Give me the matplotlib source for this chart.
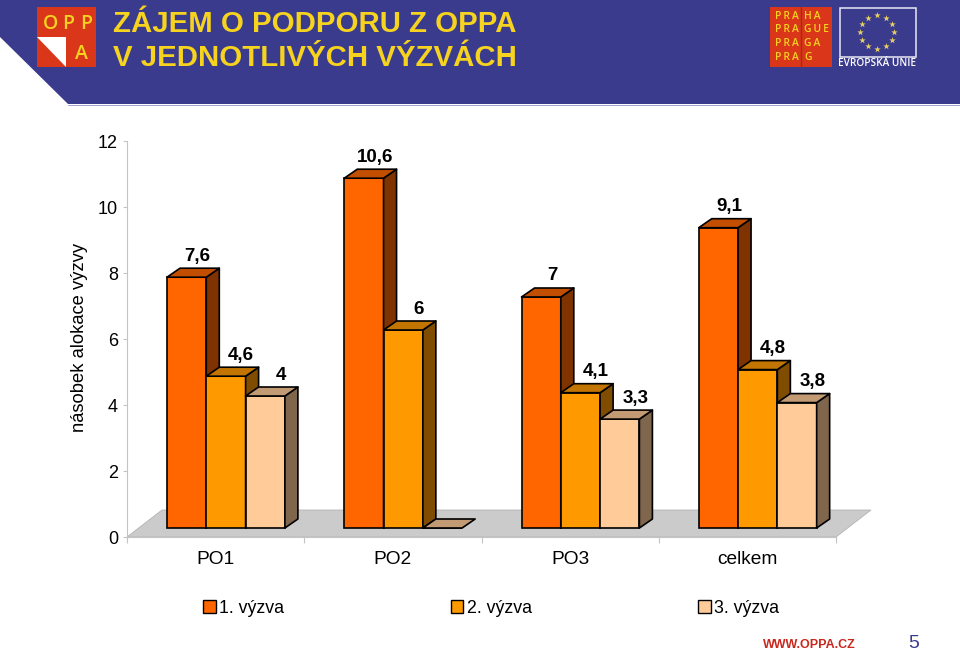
import matplotlib
matplotlib.use("Agg")
import matplotlib.pyplot as plt
from matplotlib.patches import Polygon, Rectangle, Patch

plt.rcParams['font.family'] = ['Liberation Sans', 'DejaVu Sans']

categories = ["PO1", "PO2", "PO3", "celkem"]
series_names = ["1. výzva", "2. výzva", "3. výzva"]
vyzva1 = [7.6, 10.6, 7.0, 9.1]
vyzva2 = [4.6, 6.0, 4.1, 4.8]
vyzva3 = [4.0, 0.0, 3.3, 3.8]
series = [vyzva1, vyzva2, vyzva3]
yticks = [0, 2, 4, 6, 8, 10, 12]

front = ["#FF6600", "#FF9900", "#FFCC99"]
top = ["#C24E00", "#C27500", "#C29B75"]
side = ["#7F3300", "#7F4C00", "#7F664C"]
label_dx = [11, 15, 16]
BLUE = "#3B3B8E"
YEL = "#F5D31E"
RED = "#D9361A"

W, H = 960, 651
fig = plt.figure(figsize=(W / 100, H / 100), dpi=100, facecolor="white")

# page decoration in pixel coordinates
bg = fig.add_axes([0, 0, 1, 1])
bg.set_xlim(0, W)
bg.set_ylim(H, 0)
bg.axis("off")
bg.add_patch(Polygon([(0, 0), (W, 0), (W, 104), (68, 104), (0, 37)], fc=BLUE, ec="none"))
bg.plot([68, W], [104.5, 104.5], color="#7C7CB8", lw=0.5)
bg.add_patch(Rectangle((37, 7), 59, 60, fc=RED, ec="none"))
bg.add_patch(Polygon([(37, 37), (66, 37), (66, 67)], fc="white", ec="none"))
for t, x, y in [("O", 50, 24), ("P", 68, 24), ("P", 86, 24), ("A", 81, 54)]:
    bg.text(x, y, t, color=YEL, fontsize=14, fontweight="semibold", ha="center", va="center",
            family=["Open Sans", "DejaVu Sans"])
bg.text(113, 32, "ZÁJEM O PODPORU Z OPPA", color=YEL, fontsize=21.2, fontweight="bold",
        va="baseline", ha="left")
bg.text(113, 66, "V JEDNOTLIVÝCH VÝZVÁCH", color=YEL, fontsize=21.2, fontweight="bold",
        va="baseline", ha="left")

bg.add_patch(Rectangle((770, 7), 62, 60, fc=RED, ec="none"))
bg.plot([801, 801], [7, 67], color="#A82A14", lw=1)
for i, (a, b) in enumerate([("PRA", "HA"), ("PRA", "GUE"), ("PRA", "GA"), ("PRA", "G")]):
    y = 16.5 + i * 13.5
    bg.text(775, y, "\u2009".join(a), color=YEL, fontsize=7.4, fontweight="semibold", va="center",
            ha="left", family=["Open Sans", "DejaVu Sans"])
    bg.text(804, y, "\u2009".join(b), color=YEL, fontsize=7.4, fontweight="semibold", va="center",
            ha="left", family=["Open Sans", "DejaVu Sans"])
bg.add_patch(Rectangle((840, 7.5), 75.5, 49.5, fc=BLUE, ec="#E8E8F4", lw=1.1))
star_x = [877, 886, 892, 894, 892, 886, 877, 868, 862, 860, 862, 868]
star_y = [15, 18, 24, 32, 40, 46, 49, 46, 40, 32, 24, 18]
bg.scatter(star_x, star_y, marker="*", s=24, color="#E8D060", linewidths=0)
bg.text(877.5, 64, "EVROPSKÁ UNIE", color="white", fontsize=7.2, fontweight="semibold",
        ha="center", va="center", family=["Open Sans", "DejaVu Sans"])
bg.text(809, 645.5, "WWW.OPPA.CZ", color="#C8281E", fontsize=9, fontweight="bold",
        ha="center", va="center")
bg.text(914, 643, "5", color=BLUE, fontsize=14, ha="center", va="center")

# chart axes: x in categories, y in value units
L, R, T, B = 127, 836, 141, 537
ax = fig.add_axes([L / W, (H - B) / H, (R - L) / W, (B - T) / H])
ax.patch.set_alpha(0)
ax.set_xlim(0, len(categories))
ax.set_ylim(0, yticks[-1])
px_x = len(categories) / (R - L)
px_y = yticks[-1] / (B - T)

for s in ("top", "right"):
    ax.spines[s].set_visible(False)
for s in ("left", "bottom"):
    ax.spines[s].set_color("#C4C4C4")
    ax.spines[s].set_linewidth(0.8)
ax.set_yticks(yticks)
ax.set_yticklabels([str(v) for v in yticks], fontsize=13)
ax.set_xticks(range(len(categories) + 1))
ax.set_xticklabels([])
ax.tick_params(axis="x", color="#C4C4C4", length=4, width=0.8)
ax.tick_params(axis="y", color="#C4C4C4", length=3, width=0.8, pad=3.4)
for i, c in enumerate(categories):
    ax.text(i + 0.5, -22.5 * px_y, c, ha="center", va="center", fontsize=13.8, clip_on=False)
ax.set_ylabel("násobek alokace výzvy", fontsize=13.2)
ax.yaxis.set_label_coords((88 - L) / (R - L), (B - 337) / (B - T))

# floor
fdx, fdy = 35 * px_x, 27 * px_y
ax.add_patch(Polygon([(0, 0), (fdx, fdy), (len(categories) + fdx, fdy), (len(categories), 0)],
                     fc="#CBCBCB", ec="#B4B4B4", lw=0.6, clip_on=False, zorder=1))

bar_w = 39.3 * px_x
start = 40 * px_x
lift = 9 * px_y
ddx, ddy = 13 * px_x, 9 * px_y
lw = 1.2
for g in range(len(categories)):
    for k, vals in enumerate(series):
        v = vals[g]
        x0 = g + start + k * bar_w
        x1 = x0 + bar_w
        y0, y1 = lift, lift + v
        z = 3 + g * 3 + k * 0.1
        ax.bar(x0, v, bar_w, bottom=lift, align="edge", color=front[k], edgecolor="black",
               linewidth=lw, zorder=z)
        if v > 0:
            ax.add_patch(Polygon([(x1, y0), (x1 + ddx, y0 + ddy), (x1 + ddx, y1 + ddy), (x1, y1)],
                                 fc=side[k], ec="black", lw=lw, zorder=z, joinstyle="round"))
        ax.add_patch(Polygon([(x0, y1), (x0 + ddx, y1 + ddy), (x1 + ddx, y1 + ddy), (x1, y1)],
                             fc=top[k], ec="black", lw=lw, zorder=z, joinstyle="round"))
        if v > 0:
            txt = f"{v:g}".replace(".", ",")
            ax.text(x0 + bar_w / 2 + label_dx[k] * px_x, y1 + 21 * px_y, txt, ha="center",
                    va="center", fontsize=13.5, fontweight="bold", zorder=30)

handles = [Patch(fc=front[k], ec="black", lw=1) for k in range(3)]
leg = fig.legend(handles, series_names, ncol=3, frameon=False, fontsize=12.8,
                 loc="center left", bbox_to_anchor=(198 / W, (H - 608.5) / H),
                 handlelength=0.72, handleheight=0.72, handletextpad=0.18, columnspacing=9.35,
                 borderpad=0, borderaxespad=0.3)

fig.savefig("out.png", dpi=100)
